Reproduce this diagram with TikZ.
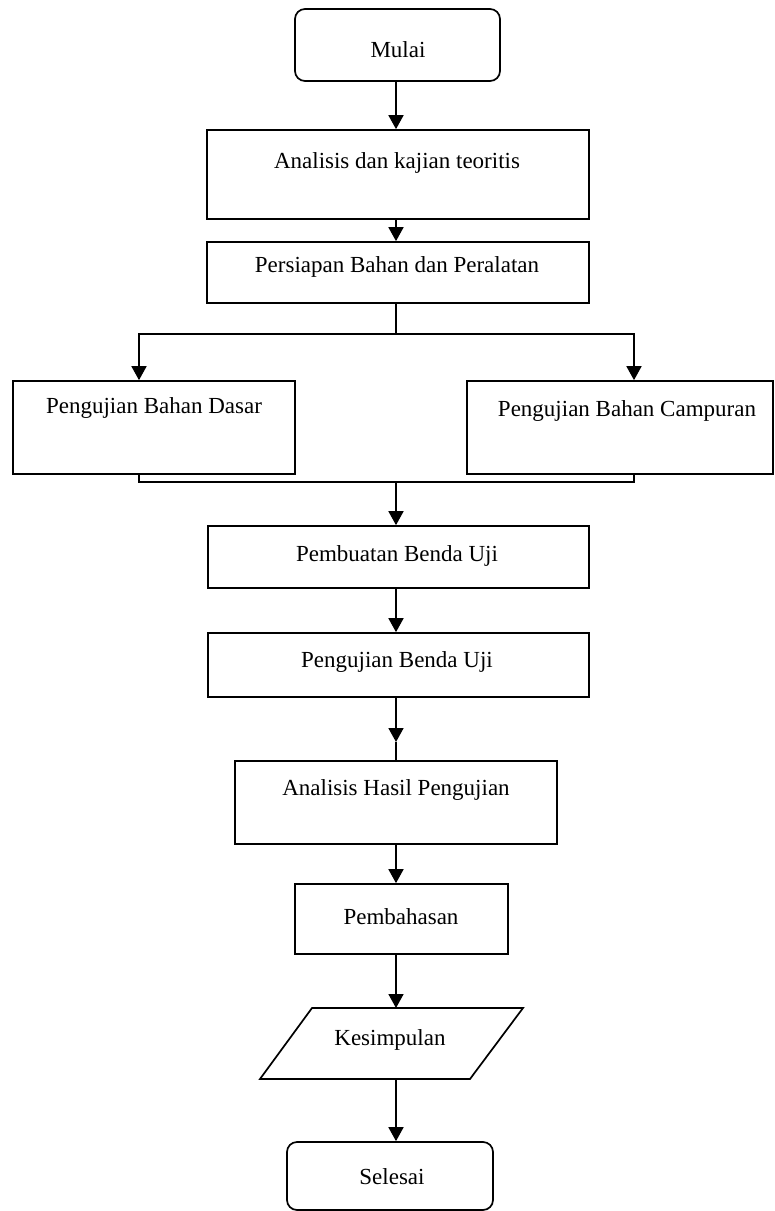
\documentclass[tikz,border=0pt]{standalone}
\usepackage{fontspec}
\setmainfont{Liberation Serif}
\usetikzlibrary{arrows.meta}
\begin{document}
\begin{tikzpicture}[x=1pt,y=-1pt,
  box/.style={draw=black, line width=1.7pt, inner sep=0pt, fill=white},
  term/.style={box, rounded corners=10pt},
  txt/.style={font=\fontsize{23}{26}\selectfont, inner sep=0pt},
  arr/.style={line width=1.7pt, -{Triangle[width=15pt,length=14pt]}},
  ln/.style={line width=1.7pt}]
\useasboundingbox (0,0) rectangle (775,1211);
\fill[white] (0,0) rectangle (775,1211);
\coordinate (ax) at (396,0);
\coordinate (bl) at (139,0);
\coordinate (br) at (634,0);

% boxes
\node[term, minimum width=205pt, minimum height=72pt] (mulai) at (397.5,45) {};
\node[box, minimum width=382pt, minimum height=89pt] (ana) at (398,174.5) {};
\node[box, minimum width=382pt, minimum height=61pt] (pers) at (398,272.5) {};
\node[box, minimum width=282pt, minimum height=93pt] (dasar) at (154,427.5) {};
\node[box, minimum width=306pt, minimum height=93pt] (camp) at (620,427.5) {};
\node[box, minimum width=381pt, minimum height=62pt] (buat) at (398.5,557) {};
\node[box, minimum width=381pt, minimum height=64pt] (uji) at (398.5,665) {};
\node[box, minimum width=322pt, minimum height=83pt] (hasil) at (396,802.5) {};
\node[box, minimum width=213pt, minimum height=70pt] (bahas) at (401.5,919) {};
\coordinate (k1) at (312,1008);
\coordinate (k2) at (523,1008);
\coordinate (k3) at (470,1079);
\coordinate (k4) at (260,1079);
\draw[ln, line join=miter] (k1) -- (k2) -- (k3) -- (k4) -- cycle;
\node[term, minimum width=206pt, minimum height=68pt] (selesai) at (390,1176) {};

% texts
\node[txt] (tmulai) at (398,50) {Mulai};
\node[txt] (tana) at (397,163) {Analisis dan kajian teoritis};
\node[txt] (tpers) at (397,267) {Persiapan Bahan dan Peralatan};
\node[txt] (tdasar) at (154,408) {Pengujian Bahan Dasar};
\node[txt] (tcamp) at (627,411) {Pengujian Bahan  Campuran};
\node[txt] (tbuat) at (397,556) {Pembuatan Benda Uji};
\node[txt] (tuji) at (397,662) {Pengujian Benda Uji};
\node[txt] (thasil) at (396,790) {Analisis Hasil Pengujian};
\node[txt] (tbahas) at (401,917) {Pembahasan};
\node[txt] (tkes) at (390,1040) {Kesimpulan};
\node[txt] (tsel) at (392,1177) {Selesai};

% connectors
\coordinate (split) at (396,334);
\coordinate (join) at (396,482);
\coordinate (mid) at (396,742);
\draw[arr] (ax |- mulai.south) -- (ax |- ana.north);
\draw[arr] (ax |- ana.south) -- (ax |- pers.north);
\draw[ln] (ax |- pers.south) -- (split);
\draw[arr] (split) -- (bl |- split) -- (bl |- dasar.north);
\draw[arr] (split) -- (br |- split) -- (br |- camp.north);
\draw[ln] (bl |- dasar.south) -- (bl |- join) -- (br |- join) -- (br |- camp.south);
\draw[arr] (join) -- (ax |- buat.north);
\draw[arr] (ax |- buat.south) -- (ax |- uji.north);
\draw[arr] (ax |- uji.south) -- (mid);
\draw[ln] (mid) -- (ax |- hasil.north);
\draw[arr] (ax |- hasil.south) -- (ax |- bahas.north);
\draw[arr] (ax |- bahas.south) -- (ax |- k1);
\draw[arr] (ax |- k4) -- (ax |- selesai.north);
\end{tikzpicture}
\end{document}
